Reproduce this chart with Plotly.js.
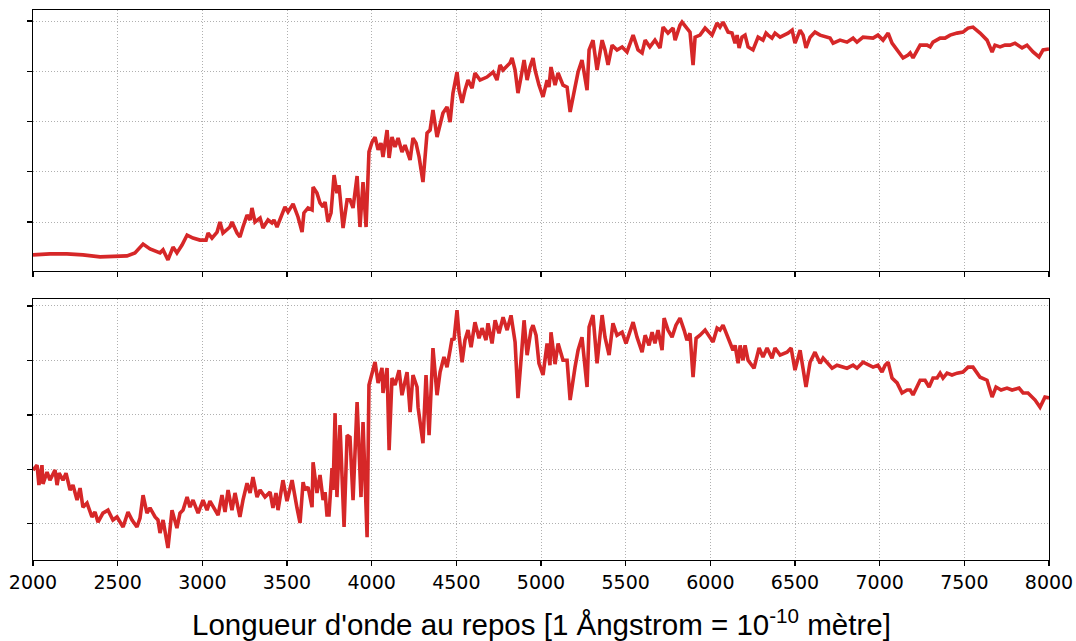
<!DOCTYPE html>
<html>
<head>
<meta charset="utf-8">
<script src="https://cdn.plot.ly/plotly-3.0.1.min.js"></script>
<style>html,body{margin:0;padding:0;background:#fff;}#chart{width:1076px;height:641px;}</style>
</head>
<body>
<div id="chart"></div>
<script>
// Top panel spectrum (rest wavelength in Å, normalized flux)
const wavelengthTop = [2000,2100,2200,2295,2396,2484,2555,2602,2650,2691,2750,2768,2797,2827,2850,2880,2910,2945,2986,3022,3034,3057,3087,3104,3122,3163,3175,3205,3222,3240,3264,3282,3293,3311,3341,3358,3388,3411,3423,3441,3471,3488,3506,3536,3565,3589,3600,3624,3648,3654,3677,3695,3713,3725,3742,3760,3778,3795,3807,3831,3855,3872,3890,3914,3931,3949,3967,3984,4002,4020,4038,4055,4067,4091,4103,4120,4138,4156,4179,4197,4227,4244,4262,4280,4303,4327,4345,4362,4386,4404,4421,4445,4463,4480,4504,4516,4534,4551,4569,4593,4610,4640,4681,4717,4740,4758,4776,4817,4829,4847,4864,4882,4900,4918,4935,4953,4965,4988,5012,5036,5047,5059,5083,5101,5130,5154,5172,5201,5219,5242,5272,5284,5307,5331,5361,5378,5396,5420,5449,5479,5508,5544,5573,5597,5615,5643,5673,5703,5721,5750,5780,5792,5821,5833,5868,5880,5898,5910,5939,5969,6010,6040,6057,6075,6105,6128,6146,6158,6170,6187,6205,6223,6252,6282,6311,6329,6341,6364,6382,6412,6459,6483,6500,6530,6548,6565,6589,6618,6648,6678,6707,6725,6766,6807,6843,6866,6902,6961,6990,7020,7050,7073,7103,7138,7168,7180,7197,7239,7280,7298,7315,7339,7357,7386,7416,7457,7492,7522,7551,7593,7634,7664,7681,7711,7740,7770,7799,7841,7870,7906,7941,7965,8000];
const fluxTop = [0.069,0.073,0.073,0.069,0.061,0.065,0.065,0.077,0.112,0.093,0.077,0.089,0.049,0.100,0.077,0.108,0.148,0.136,0.128,0.128,0.156,0.136,0.160,0.200,0.156,0.180,0.200,0.156,0.140,0.180,0.228,0.208,0.256,0.200,0.216,0.176,0.208,0.196,0.208,0.180,0.236,0.260,0.240,0.272,0.220,0.160,0.236,0.256,0.248,0.339,0.315,0.276,0.260,0.280,0.200,0.236,0.387,0.315,0.347,0.176,0.288,0.288,0.256,0.383,0.180,0.359,0.180,0.479,0.518,0.538,0.487,0.514,0.459,0.566,0.455,0.538,0.499,0.534,0.479,0.506,0.447,0.534,0.514,0.459,0.359,0.554,0.566,0.646,0.538,0.594,0.634,0.658,0.598,0.713,0.797,0.725,0.674,0.725,0.765,0.733,0.793,0.765,0.777,0.797,0.765,0.825,0.805,0.833,0.853,0.805,0.713,0.777,0.845,0.765,0.817,0.853,0.805,0.745,0.698,0.765,0.737,0.817,0.745,0.793,0.745,0.737,0.638,0.737,0.797,0.845,0.725,0.885,0.924,0.805,0.924,0.885,0.825,0.904,0.885,0.897,0.877,0.944,0.885,0.873,0.924,0.897,0.924,0.893,0.976,0.952,0.972,0.924,0.984,0.996,0.964,0.956,0.825,0.936,0.944,0.972,0.944,0.992,0.976,0.996,0.956,0.952,0.912,0.944,0.893,0.936,0.944,0.897,0.885,0.936,0.924,0.952,0.944,0.932,0.952,0.936,0.952,0.964,0.912,0.964,0.944,0.893,0.936,0.956,0.944,0.936,0.932,0.912,0.924,0.916,0.932,0.916,0.936,0.932,0.944,0.924,0.952,0.912,0.885,0.853,0.865,0.873,0.853,0.904,0.904,0.897,0.916,0.924,0.932,0.932,0.944,0.952,0.956,0.972,0.976,0.952,0.924,0.877,0.904,0.897,0.904,0.904,0.912,0.893,0.904,0.877,0.857,0.885,0.889];

// Bottom panel spectrum
const wavelengthBottom = [2000,2024,2035,2053,2059,2083,2100,2118,2130,2142,2154,2177,2195,2219,2236,2260,2278,2295,2319,2348,2366,2384,2413,2443,2472,2496,2532,2561,2585,2614,2632,2650,2673,2691,2721,2738,2750,2768,2797,2821,2850,2868,2886,2910,2927,2945,2975,3004,3028,3045,3093,3116,3134,3152,3175,3193,3222,3240,3264,3282,3299,3323,3341,3370,3400,3417,3435,3447,3476,3500,3530,3559,3577,3595,3606,3624,3648,3654,3677,3695,3713,3725,3736,3748,3766,3772,3784,3795,3813,3837,3855,3872,3890,3914,3937,3949,3973,3984,4002,4020,4038,4061,4067,4091,4103,4120,4138,4162,4179,4209,4227,4244,4268,4274,4303,4321,4339,4362,4386,4404,4427,4445,4463,4475,4486,4504,4516,4534,4551,4569,4587,4610,4634,4652,4675,4687,4711,4729,4752,4776,4800,4823,4847,4864,4888,4900,4918,4941,4953,4971,4988,5012,5036,5053,5059,5083,5101,5130,5154,5172,5201,5219,5242,5272,5284,5307,5331,5361,5378,5402,5425,5449,5479,5502,5544,5567,5597,5615,5638,5656,5673,5691,5715,5727,5750,5774,5797,5821,5845,5862,5880,5898,5916,5939,5969,5998,6016,6040,6057,6075,6105,6134,6146,6164,6176,6193,6205,6223,6258,6288,6311,6335,6364,6382,6412,6453,6477,6500,6530,6565,6589,6618,6648,6666,6719,6748,6807,6843,6866,6902,6961,6990,7014,7032,7050,7073,7103,7132,7162,7180,7197,7239,7268,7292,7315,7339,7357,7374,7398,7427,7457,7492,7522,7551,7593,7634,7664,7687,7717,7752,7782,7823,7847,7876,7918,7947,7976,8000];
const fluxBottom = [0.397,0.415,0.342,0.415,0.346,0.390,0.360,0.386,0.397,0.342,0.386,0.360,0.386,0.324,0.342,0.287,0.331,0.261,0.276,0.225,0.243,0.206,0.239,0.250,0.214,0.225,0.188,0.243,0.214,0.188,0.221,0.305,0.239,0.258,0.225,0.214,0.166,0.214,0.111,0.250,0.184,0.239,0.250,0.298,0.261,0.287,0.239,0.287,0.250,0.283,0.232,0.305,0.243,0.324,0.250,0.313,0.225,0.287,0.349,0.313,0.371,0.298,0.324,0.298,0.316,0.258,0.313,0.250,0.360,0.283,0.360,0.258,0.203,0.353,0.324,0.335,0.261,0.426,0.313,0.379,0.287,0.316,0.232,0.232,0.404,0.324,0.606,0.298,0.562,0.188,0.525,0.518,0.287,0.647,0.298,0.573,0.151,0.709,0.753,0.794,0.717,0.772,0.680,0.772,0.470,0.735,0.709,0.764,0.672,0.757,0.610,0.746,0.702,0.628,0.496,0.746,0.525,0.845,0.672,0.757,0.812,0.775,0.837,0.881,0.874,0.984,0.892,0.793,0.874,0.911,0.848,0.940,0.881,0.918,0.874,0.936,0.862,0.947,0.899,0.958,0.911,0.965,0.867,0.661,0.848,0.947,0.819,0.911,0.929,0.892,0.789,0.746,0.862,0.782,0.903,0.786,0.862,0.800,0.800,0.654,0.775,0.837,0.885,0.702,0.922,0.966,0.789,0.966,0.885,0.819,0.936,0.892,0.903,0.862,0.940,0.885,0.830,0.892,0.855,0.903,0.862,0.911,0.837,0.955,0.911,0.885,0.929,0.955,0.911,0.874,0.899,0.738,0.881,0.892,0.911,0.881,0.867,0.918,0.911,0.929,0.881,0.837,0.855,0.789,0.855,0.800,0.855,0.800,0.771,0.845,0.812,0.845,0.808,0.845,0.819,0.830,0.845,0.764,0.837,0.702,0.793,0.830,0.789,0.808,0.771,0.782,0.771,0.782,0.771,0.793,0.775,0.782,0.757,0.782,0.793,0.735,0.717,0.680,0.691,0.691,0.673,0.727,0.727,0.702,0.735,0.735,0.753,0.735,0.753,0.746,0.753,0.757,0.775,0.775,0.738,0.727,0.665,0.702,0.691,0.698,0.691,0.698,0.680,0.680,0.654,0.628,0.665,0.662];

const xTicks = [2000,2500,3000,3500,4000,4500,5000,5500,6000,6500,7000,7500,8000];
const xTickLabels = xTicks.map(String);
const yTicks = [0.2,0.4,0.6,0.8,1.0];
const xTitle = "Longueur d'onde au repos [1 Ångstrom = 10<sup>-10</sup> mètre]";

const lineStyle = {color:'#d62728', width:3.6};
const traces = [
  {x: wavelengthTop, y: fluxTop, xaxis:'x', yaxis:'y', mode:'lines', line:lineStyle, hoverinfo:'x+y'},
  {x: wavelengthBottom, y: fluxBottom, xaxis:'x2', yaxis:'y2', mode:'lines', line:lineStyle, hoverinfo:'x+y'}
];

const common = {
  showline:true, mirror:true, linecolor:'#000', linewidth:1.4,
  showgrid:true, gridcolor:'#b0b0b0', gridwidth:1, griddash:'1px,2px',
  zeroline:false, ticks:'outside', tickcolor:'#000', tickwidth:1.4, ticklen:5
};

const layout = {
  width:1076, height:641,
  margin:{l:33, r:27, t:10, b:81},
  paper_bgcolor:'#fff', plot_bgcolor:'#fff',
  showlegend:false,
  font:{family:'DejaVu Sans', color:'#000'},
  xaxis: Object.assign({}, common, {domain:[0,1], anchor:'y', range:[2000,8000], tickvals:xTicks, ticktext:xTickLabels, showticklabels:false}),
  yaxis: Object.assign({}, common, {domain:[0.5255,1], anchor:'x', range:[0.005,1.044], tickvals:yTicks, showticklabels:false}),
  xaxis2: Object.assign({}, common, {domain:[0,1], anchor:'y2', range:[2000,8000], tickvals:xTicks, ticktext:xTickLabels, showticklabels:true, tickfont:{family:'DejaVu Sans', size:19, color:'#000'}}),
  yaxis2: Object.assign({}, common, {domain:[0,0.4745], anchor:'x2', range:[0.067,1.025], tickvals:yTicks, showticklabels:false}),
  annotations:[{
    text:xTitle, xref:'paper', yref:'paper', x:0.5, y:-0.114, xanchor:'center', yanchor:'middle',
    showarrow:false, font:{family:'Liberation Sans, Arial, sans-serif', size:29.5, color:'#000'}
  }]
};

Plotly.newPlot('chart', traces, layout, {displayModeBar:false, staticPlot:true});
</script>
</body>
</html>
